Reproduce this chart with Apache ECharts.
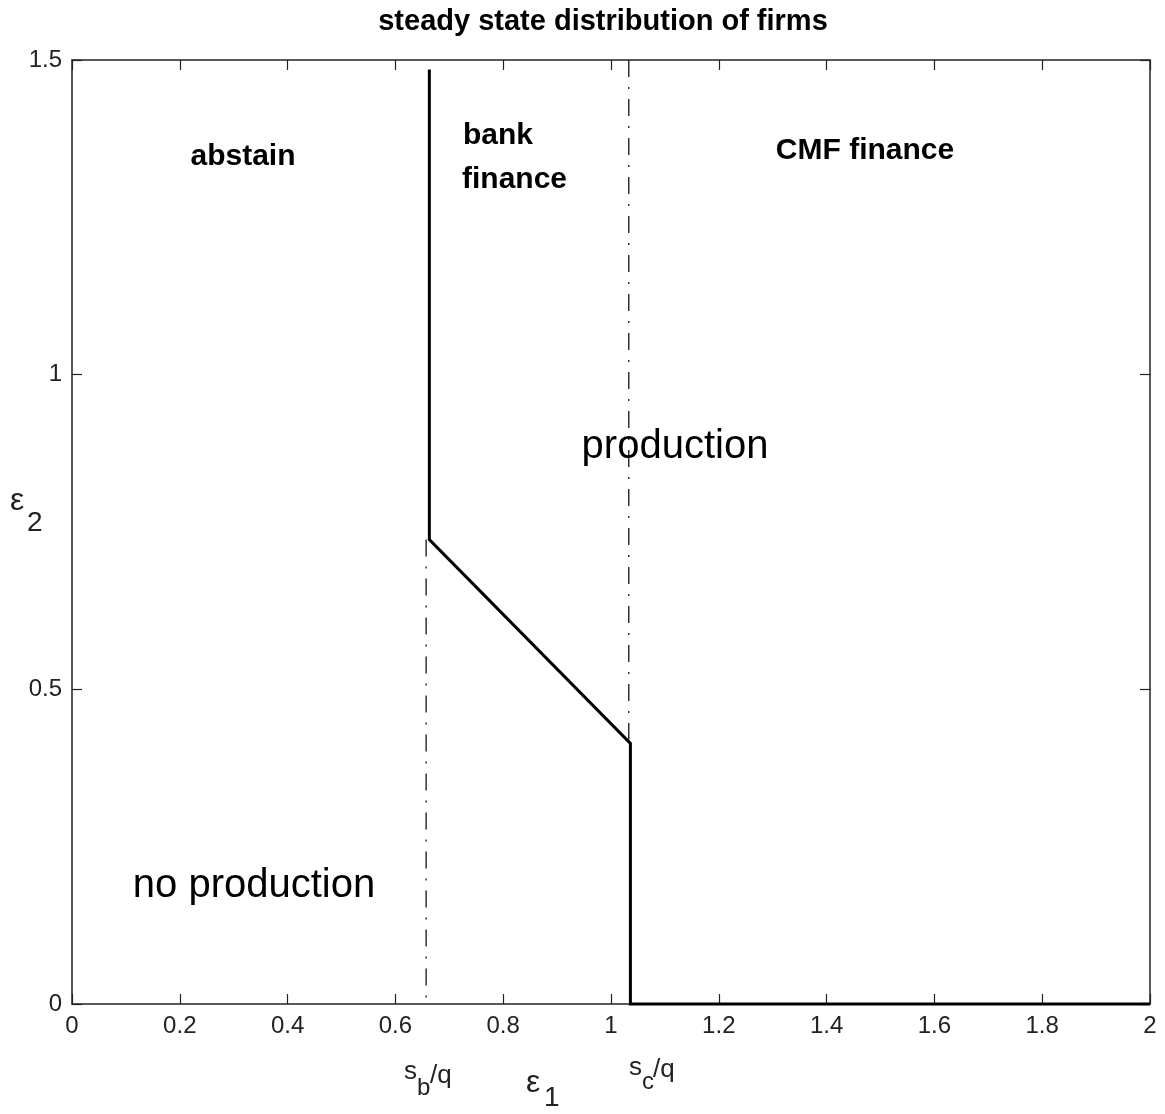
<!DOCTYPE html>
<html>
<head>
<meta charset="utf-8">
<script src="https://cdn.jsdelivr.net/npm/echarts@6/dist/echarts.min.js"></script>
<style>
  html, body { margin: 0; padding: 0; background: #fff; }
  #chart { width: 1165px; height: 1114px; }
</style>
</head>
<body>
<div id="chart"></div>
<script>
// ---- data ----
const titleText = 'steady state distribution of firms';
const xTickValues = [0, 0.2, 0.4, 0.6, 0.8, 1, 1.2, 1.4, 1.6, 1.8, 2];
const yTickValues = [0, 0.5, 1, 1.5];

// solid boundary between regions
const boundaryX = [0.663, 0.663, 1.036, 1.036, 2.0];
const boundaryY = [1.485, 0.738, 0.414, 0.0, 0.0];

// dash-dot reference lines at s_b/q and s_c/q
const sbLineX = [0.657, 0.657];
const sbLineY = [0.738, 0.0];
const scLineX = [1.033, 1.033];
const scLineY = [1.5, 0.42];

const regionLabels = ['abstain', 'bank', 'finance', 'CMF finance', 'production', 'no production'];

function pairs(xs, ys) { return xs.map((x, i) => [x, ys[i]]); }

const FONT = '"Liberation Sans", Arial, sans-serif';
const axisColor = '#222';

const chart = echarts.init(document.getElementById('chart'), null, { renderer: 'canvas' });

const commonTick = { show: true, inside: true, length: 10, lineStyle: { color: axisColor, width: 1.2 } };

function fmt(list) {
  return v => { const t = list.find(tv => Math.abs(tv - v) < 1e-6); return t === undefined ? '' : String(t); };
}

const option = {
  backgroundColor: '#fff',
  animation: false,
  grid: { left: 72, right: 15, top: 60, bottom: 110, containLabel: false },
  xAxis: [
    {
      type: 'value', min: 0, max: 2, interval: 0.2, position: 'bottom',
      axisLine: { show: true, onZero: false, lineStyle: { color: axisColor, width: 1.5 } },
      axisTick: commonTick,
      axisLabel: { show: true, margin: 10, fontFamily: FONT, fontSize: 24, color: '#222', formatter: fmt(xTickValues) },
      splitLine: { show: false }
    },
    {
      type: 'value', min: 0, max: 2, interval: 0.2, position: 'top',
      axisLine: { show: true, onZero: false, lineStyle: { color: axisColor, width: 1.5 } },
      axisTick: commonTick, axisLabel: { show: false }, splitLine: { show: false }
    }
  ],
  yAxis: [
    {
      type: 'value', min: 0, max: 1.5, interval: 0.5, position: 'left',
      axisLine: { show: true, onZero: false, lineStyle: { color: axisColor, width: 1.5 } },
      axisTick: commonTick,
      axisLabel: { show: true, margin: 10, fontFamily: FONT, fontSize: 24, color: '#222', formatter: fmt(yTickValues) },
      splitLine: { show: false }
    },
    {
      type: 'value', min: 0, max: 1.5, interval: 0.5, position: 'right',
      axisLine: { show: true, onZero: false, lineStyle: { color: axisColor, width: 1.5 } },
      axisTick: commonTick, axisLabel: { show: false }, splitLine: { show: false }
    }
  ],
  series: [
    {
      type: 'line', name: 'sb', data: pairs(sbLineX, sbLineY), showSymbol: false, symbol: 'none',
      lineStyle: { color: '#111', width: 1.3, type: [17, 10, 2, 10] }, z: 3, silent: true
    },
    {
      type: 'line', name: 'sc', data: pairs(scLineX, scLineY), showSymbol: false, symbol: 'none',
      lineStyle: { color: '#111', width: 1.3, type: [17, 10, 2, 10] }, z: 3, silent: true
    },
    {
      type: 'line', name: 'boundary', data: pairs(boundaryX, boundaryY), showSymbol: false, symbol: 'none',
      clip: false, lineStyle: { color: '#000', width: 3, join: 'miter' }, z: 5, silent: true
    }
  ],
  graphic: [
    { type: 'text', x: 603, y: 22, style: { text: titleText, font: 'bold 29px ' + FONT, fill: '#000', align: 'center', verticalAlign: 'middle' } },
    // region labels
    { type: 'text', x: 243, y: 157, style: { text: regionLabels[0], font: 'bold 30px ' + FONT, fill: '#000', align: 'center', verticalAlign: 'middle' } },
    { type: 'text', x: 463, y: 136, style: { text: regionLabels[1], font: 'bold 30px ' + FONT, fill: '#000', align: 'left', verticalAlign: 'middle' } },
    { type: 'text', x: 462, y: 180, style: { text: regionLabels[2], font: 'bold 30px ' + FONT, fill: '#000', align: 'left', verticalAlign: 'middle' } },
    { type: 'text', x: 865, y: 151, style: { text: regionLabels[3], font: 'bold 30px ' + FONT, fill: '#000', align: 'center', verticalAlign: 'middle' } },
    { type: 'text', x: 675, y: 447, style: { text: regionLabels[4], font: '40px ' + FONT, fill: '#000', align: 'center', verticalAlign: 'middle' } },
    { type: 'text', x: 254, y: 886, style: { text: regionLabels[5], font: '40px ' + FONT, fill: '#000', align: 'center', verticalAlign: 'middle' } },
    // axis annotations: s_b/q
    { type: 'text', x: 404, y: 1072, style: { text: 's', font: '26px ' + FONT, fill: '#222', align: 'left', verticalAlign: 'middle' } },
    { type: 'text', x: 417, y: 1088, style: { text: 'b', font: '24px ' + FONT, fill: '#222', align: 'left', verticalAlign: 'middle' } },
    { type: 'text', x: 430, y: 1076, style: { text: '/q', font: '26px ' + FONT, fill: '#222', align: 'left', verticalAlign: 'middle' } },
    // epsilon_1
    { type: 'text', x: 526, y: 1083, style: { text: 'ε', font: '32px ' + FONT, fill: '#222', align: 'left', verticalAlign: 'middle' } },
    { type: 'text', x: 544, y: 1098, style: { text: '1', font: '28px ' + FONT, fill: '#222', align: 'left', verticalAlign: 'middle' } },
    // s_c/q
    { type: 'text', x: 629, y: 1068, style: { text: 's', font: '26px ' + FONT, fill: '#222', align: 'left', verticalAlign: 'middle' } },
    { type: 'text', x: 642, y: 1082, style: { text: 'c', font: '24px ' + FONT, fill: '#222', align: 'left', verticalAlign: 'middle' } },
    { type: 'text', x: 653, y: 1070, style: { text: '/q', font: '26px ' + FONT, fill: '#222', align: 'left', verticalAlign: 'middle' } },
    // epsilon_2
    { type: 'text', x: 10, y: 501, style: { text: 'ε', font: '32px ' + FONT, fill: '#222', align: 'left', verticalAlign: 'middle' } },
    { type: 'text', x: 27, y: 523, style: { text: '2', font: '28px ' + FONT, fill: '#222', align: 'left', verticalAlign: 'middle' } }
  ]
};

chart.setOption(option);
</script>
</body>
</html>
